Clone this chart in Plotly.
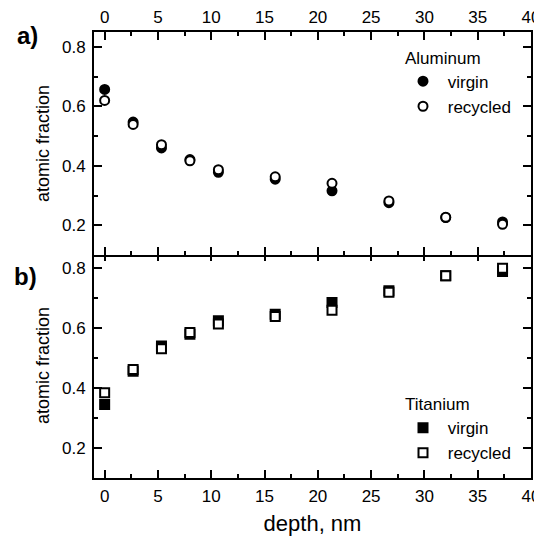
import plotly.graph_objects as go

depth = [0, 2.67, 5.33, 8.0, 10.67, 16.0, 21.33, 26.67, 32.0, 37.33]
al_virgin = [0.657, 0.547, 0.460, 0.421, 0.378, 0.355, 0.316, 0.276, 0.226, 0.211]
al_recycled = [0.620, 0.539, 0.471, 0.417, 0.387, 0.363, 0.341, 0.282, 0.227, 0.203]
ti_virgin = [0.345, 0.456, 0.540, 0.579, 0.624, 0.646, 0.685, 0.724, 0.774, 0.788]
ti_recycled = [0.384, 0.462, 0.531, 0.585, 0.613, 0.638, 0.659, 0.719, 0.774, 0.799]

FONT = "Liberation Sans, Arial, sans-serif"
OFF = 8  # page body margin offset in the browser
W, H = 542 - OFF, 539 - OFF
# plot area in window pixels: left 94.3, right 530.7, top 31.7, bottom 477.7
ML = 94 - OFF
MR = 542 - 531
MT = 32 - OFF
MB = 539 - 478
PH = H - MT - MB
PW = W - ML - MR
LW = 2


def py(ywin):
    return (H - MB - (ywin - OFF)) / PH


def px(xwin):
    return ((xwin - OFF) - ML) / PW


split = py(254)
half = (LW / 2) / PH

fig = go.Figure()

mk = dict(size=9, line=dict(color="black", width=2))
NB = "&nbsp;"

fig.add_trace(go.Scatter(x=depth, y=al_virgin, mode="markers", name=NB + "virgin",
                         xaxis="x2", yaxis="y2", legend="legend",
                         marker=dict(symbol="circle", color="black", **mk)))
fig.add_trace(go.Scatter(x=depth, y=al_recycled, mode="markers", name=NB + "recycled",
                         xaxis="x2", yaxis="y2", legend="legend",
                         marker=dict(symbol="circle", color="white", **mk)))
fig.add_trace(go.Scatter(x=depth, y=ti_virgin, mode="markers", name=NB + "virgin",
                         xaxis="x", yaxis="y", legend="legend2",
                         marker=dict(symbol="square", color="black", **mk)))
fig.add_trace(go.Scatter(x=depth, y=ti_recycled, mode="markers", name=NB + "recycled",
                         xaxis="x", yaxis="y", legend="legend2",
                         marker=dict(symbol="square", color="white", **mk)))

axcommon = dict(showline=True, linecolor="black", linewidth=LW, mirror="ticks",
                ticks="inside", ticklen=8, tickwidth=1.5, tickcolor="black",
                showgrid=False, zeroline=False, automargin=False,
                tickfont=dict(family=FONT, size=17, color="black"))

xcommon = dict(axcommon, range=[-1, 40], tick0=0, dtick=5,
               minor=dict(ticks="inside", ticklen=4, tickwidth=1.5, tickcolor="black", dtick=2.5, tick0=0, showgrid=False))
ycommon = dict(axcommon, range=[0.1, 0.85], tick0=0, dtick=0.2, ticklabelstandoff=3,
               minor=dict(ticks="inside", ticklen=4, tickwidth=1.5, tickcolor="black", dtick=0.1, tick0=0, showgrid=False),
               title=dict(text="atomic fraction", font=dict(family=FONT, size=18, color="black"), standoff=8))

fig.update_layout(
    template="none",
    width=W, height=H,
    margin=dict(l=ML, r=MR, t=MT, b=MB),
    paper_bgcolor="white", plot_bgcolor="white",
    font=dict(family=FONT, size=17, color="black"),
    xaxis=dict(xcommon, anchor="y", domain=[0, 1], side="bottom", ticklabelstandoff=2,
               title=dict(text="depth, nm", font=dict(family=FONT, size=22, color="black"), standoff=10)),
    xaxis2=dict(xcommon, anchor="y2", domain=[0, 1], side="top", matches="x"),
    yaxis=dict(ycommon, anchor="x", domain=[0, split + half]),
    yaxis2=dict(ycommon, anchor="x2", domain=[split - half, 1]),
    legend=dict(x=px(403), y=py(41.5), xanchor="left", yanchor="top",
                bgcolor="rgba(0,0,0,0)", borderwidth=0,
                title=dict(text="Aluminum", font=dict(family=FONT, size=17)),
                font=dict(family=FONT, size=17), tracegroupgap=0),
    legend2=dict(x=px(403), y=py(388), xanchor="left", yanchor="top",
                 bgcolor="rgba(0,0,0,0)", borderwidth=0,
                 title=dict(text="Titanium", font=dict(family=FONT, size=17)),
                 font=dict(family=FONT, size=17), tracegroupgap=0),
    showlegend=True,
    annotations=[
        dict(text="<b>a)</b>", x=px(27), y=py(35), xref="paper", yref="paper",
             xanchor="center", yanchor="middle",
             showarrow=False, font=dict(family=FONT, size=24, color="black")),
        dict(text="<b>b)</b>", x=px(25), y=py(276), xref="paper", yref="paper",
             xanchor="center", yanchor="middle",
             showarrow=False, font=dict(family=FONT, size=24, color="black")),
    ],
)

fig.write_html("out.html")
